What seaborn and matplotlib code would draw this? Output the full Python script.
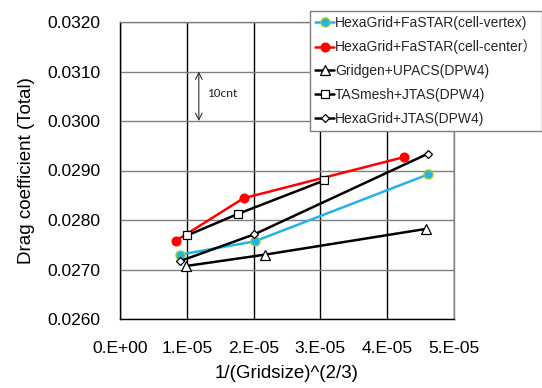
import numpy as np
import pandas as pd
import matplotlib
matplotlib.use("Agg")
import matplotlib.pyplot as plt
import seaborn as sns

# ---------------------------------------------------------
# data
# ---------------------------------------------------------
labels = [
    "HexaGrid+FaSTAR(cell-vertex)",
    "HexaGrid+FaSTAR(cell-center\uff09",
    "Gridgen+UPACS(DPW4)",
    "TASmesh+JTAS(DPW4)",
    "HexaGrid+JTAS(DPW4)",
]
x_vertex = [9.0e-6, 20.2e-6, 46.1e-6]
cd_vertex = [0.02730, 0.02757, 0.02892]
x_center = [8.35e-6, 18.5e-6, 42.5e-6]
cd_center = [0.02758, 0.02844, 0.02927]
x_upacs = [9.85e-6, 21.7e-6, 45.8e-6]
cd_upacs = [0.02707, 0.02730, 0.02782]
x_tasmesh = [10.1e-6, 17.6e-6, 30.6e-6]
cd_tasmesh = [0.02769, 0.02812, 0.02880]
x_jtas = [9.0e-6, 20.1e-6, 46.1e-6]
cd_jtas = [0.02717, 0.02771, 0.02934]

xticks = [0, 1e-5, 2e-5, 3e-5, 4e-5, 5e-5]
xtick_labels = ["0.E+00", "1.E-05", "2.E-05", "3.E-05", "4.E-05", "5.E-05"]
yticks = [0.0260, 0.0270, 0.0280, 0.0290, 0.0300, 0.0310, 0.0320]

series = [
    (x_vertex, cd_vertex, dict(color="#1fb4ec", marker="o", markersize=6.5,
                               markerfacecolor="#1fb4ec", markeredgecolor="#9acd32",
                               markeredgewidth=1.0)),
    (x_center, cd_center, dict(color="#ff0000", marker="o", markersize=6.5,
                               markerfacecolor="#ff0000", markeredgecolor="#ff0000")),
    (x_upacs, cd_upacs, dict(color="black", marker="^", markersize=6.5,
                             markerfacecolor="white", markeredgecolor="black",
                             markeredgewidth=0.9)),
    (x_tasmesh, cd_tasmesh, dict(color="black", marker="s", markersize=6,
                                 markerfacecolor="white", markeredgecolor="black",
                                 markeredgewidth=0.9)),
    (x_jtas, cd_jtas, dict(color="black", marker="D", markersize=4.5,
                           markerfacecolor="white", markeredgecolor="black",
                           markeredgewidth=0.9)),
]

# ---------------------------------------------------------
# plot
# ---------------------------------------------------------
sns.set_theme(style="white")
plt.rcParams["font.family"] = ["Liberation Sans", "Noto Sans CJK JP", "DejaVu Sans"]

fig = plt.figure(figsize=(5.42, 3.88), dpi=100)
ax = fig.add_axes([120 / 542, 1 - 319 / 388, (454 - 120) / 542, (319 - 22) / 388])

for (xs, ys, style), lab in zip(series, labels):
    df = pd.DataFrame({"x": xs, "cd": ys})
    sns.lineplot(data=df, x="x", y="cd", ax=ax, label=lab, linewidth=1.8,
                 estimator=None, sort=False, **style)

ax.set_xlim(0, 5e-5)
ax.set_ylim(0.0260, 0.0320)
ax.set_xticks(xticks)
ax.set_xticklabels(xtick_labels)
ax.set_yticks(yticks)
ax.set_yticklabels([f"{v:.4f}" for v in yticks])
ax.tick_params(axis="both", length=0, labelsize=12.5, colors="black")
ax.tick_params(axis="y", pad=14)
ax.tick_params(axis="x", pad=16)

ax.xaxis.grid(True, color="black", linewidth=1.0)
ax.yaxis.grid(True, color="#808080", linewidth=1.0)
ax.set_axisbelow(True)
for side in ["left", "bottom"]:
    ax.spines[side].set_color("black")
    ax.spines[side].set_linewidth(1.0)
for side in ["top", "right"]:
    ax.spines[side].set_color("#808080")
    ax.spines[side].set_linewidth(1.0)

ax.set_xlabel("1/(Gridsize)^(2/3)", fontsize=13.5, labelpad=6, color="black")
ax.set_ylabel("Drag coefficient (Total)", fontsize=13.5, labelpad=9, color="black")

# 10 count bracket
ax.annotate("", xy=(1.18e-5, 0.0310), xytext=(1.18e-5, 0.0300),
            arrowprops=dict(arrowstyle="<->", color="#333333", lw=0.8,
                            shrinkA=0, shrinkB=0))
ax.text(1.31e-5, 0.03055, "10cnt", fontsize=9.5, va="center", ha="left",
        family=["Carlito", "Noto Sans", "DejaVu Sans"])

leg = ax.legend(loc="upper left", bbox_to_anchor=(310 / 542, 1 - 11 / 388),
                bbox_transform=fig.transFigure, fontsize=10, frameon=True,
                fancybox=False, edgecolor="#808080", framealpha=1,
                borderaxespad=0, borderpad=0.35, labelspacing=0.7,
                handlelength=1.4, handletextpad=0.05)
leg.get_frame().set_linewidth(1.0)

fig.savefig("out.png", dpi=100)
plt.close(fig)
